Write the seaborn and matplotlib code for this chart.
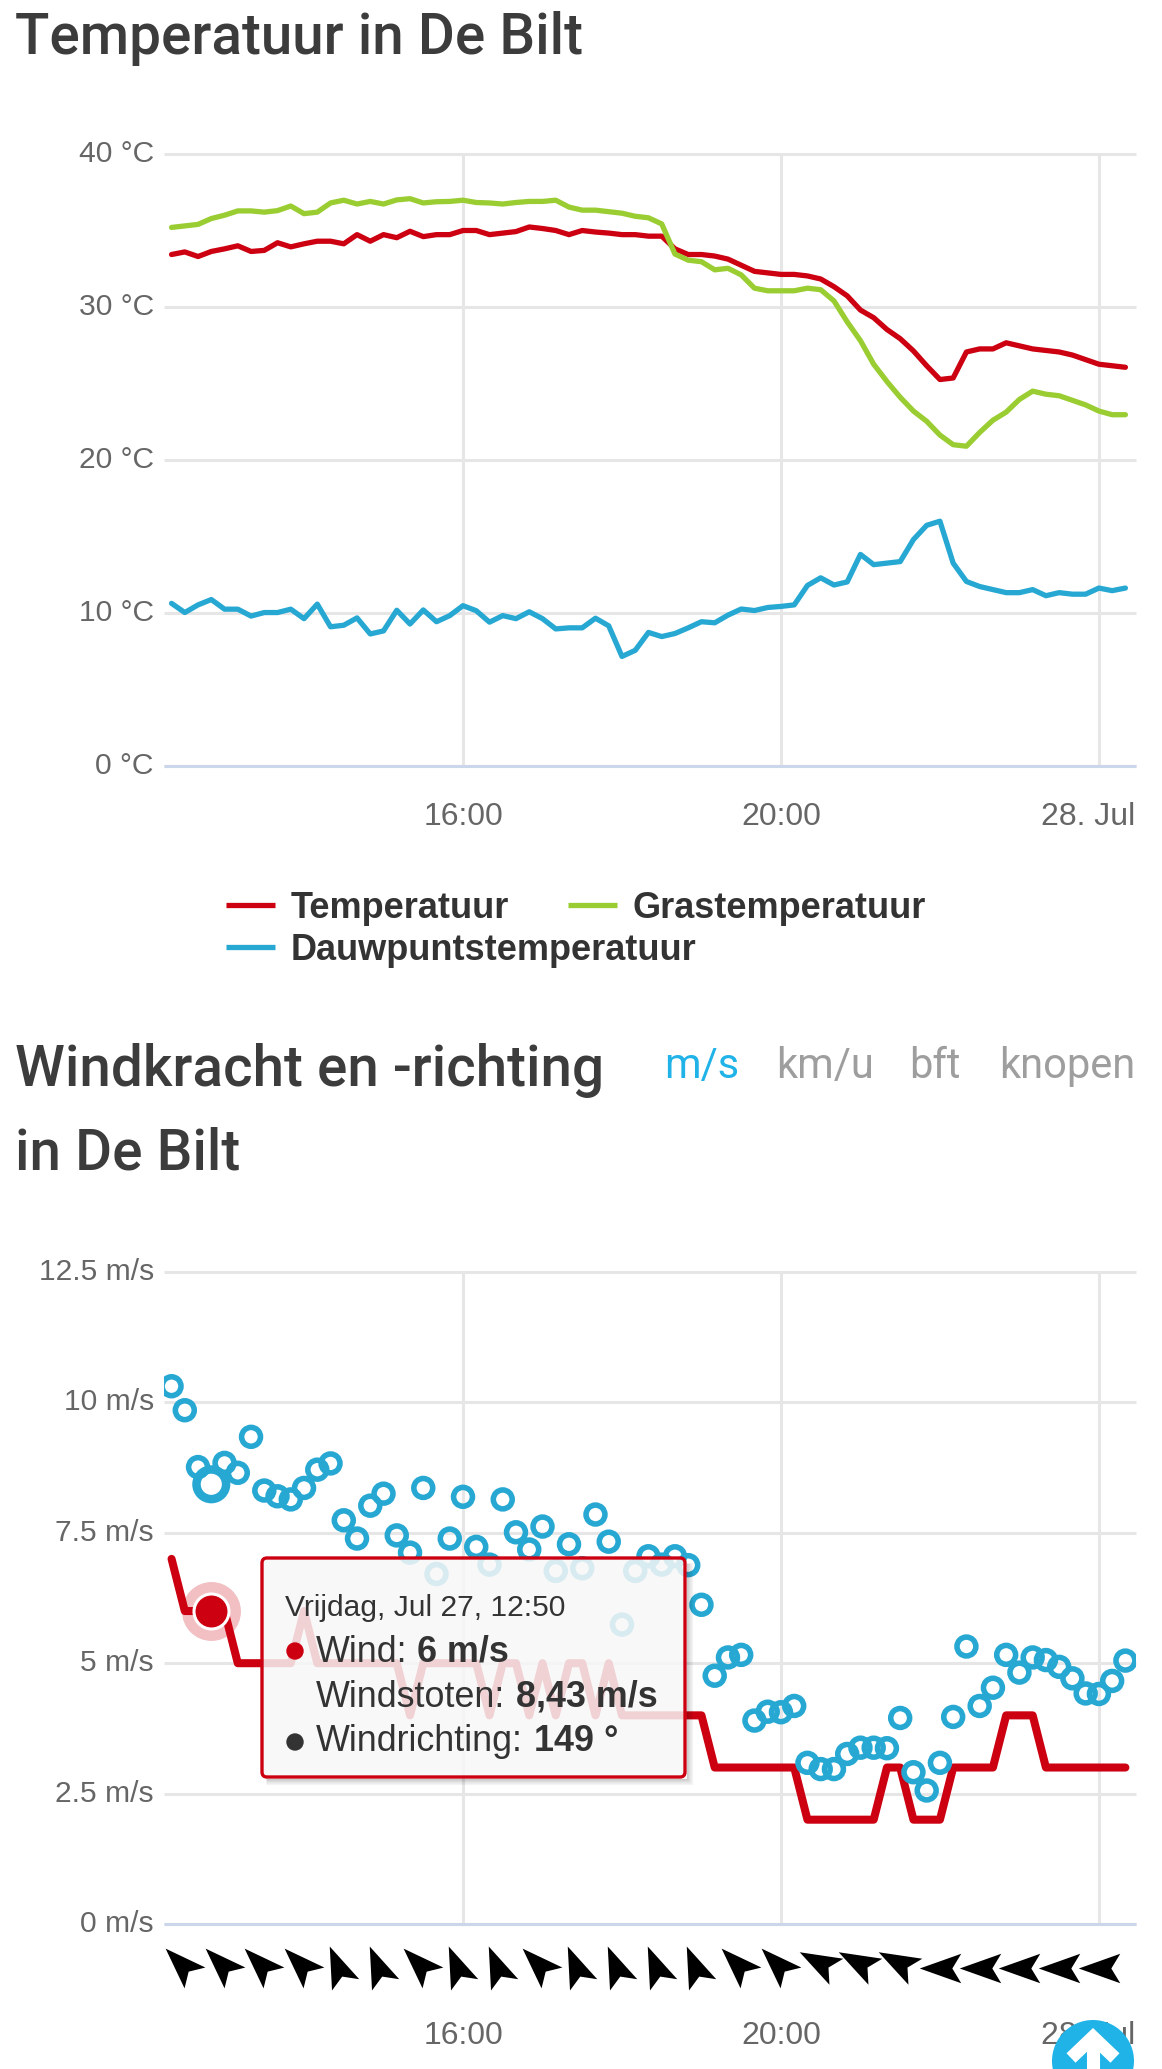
import matplotlib
matplotlib.use("Agg")
import matplotlib.pyplot as plt
import numpy as np
import pandas as pd
import seaborn as sns
from matplotlib.lines import Line2D
from matplotlib.markers import MarkerStyle
from matplotlib.patches import Circle, FancyBboxPatch
from matplotlib.path import Path
from matplotlib.transforms import Affine2D, ScaledTranslation

W, H = 1162, 2069

times = pd.date_range("2018-07-27 12:20", periods=73, freq="10min")

temperatuur = [33.43, 33.6, 33.3, 33.63, 33.8, 34.0, 33.63, 33.7, 34.2, 33.93, 34.13, 34.3, 34.3, 34.13, 34.73,
               34.3, 34.73, 34.53, 34.95, 34.6, 34.73, 34.73, 35.0, 35.0, 34.73, 34.83, 34.93, 35.23, 35.13, 35.0,
               34.73, 35.0, 34.9, 34.83, 34.73, 34.73, 34.63, 34.63, 33.8, 33.43, 33.43, 33.33, 33.13, 32.73, 32.33,
               32.23, 32.13, 32.13, 32.03, 31.83, 31.33, 30.73, 29.8, 29.3, 28.53, 27.93, 27.13, 26.16, 25.26, 25.36,
               27.06, 27.26, 27.26, 27.66, 27.46, 27.26, 27.16, 27.06, 26.86, 26.56, 26.26, 26.16, 26.06]
grastemperatuur = [35.2, 35.3, 35.4, 35.78, 36.0, 36.28, 36.28, 36.2, 36.3, 36.6, 36.1, 36.2, 36.8, 36.98, 36.73,
                   36.9, 36.73, 37.0, 37.08, 36.8, 36.88, 36.9, 36.98, 36.83, 36.8, 36.73, 36.83, 36.9, 36.9, 36.98,
                   36.53, 36.33, 36.33, 36.23, 36.13, 35.93, 35.83, 35.43, 33.46, 33.06, 32.96, 32.43, 32.53, 32.1,
                   31.23, 31.06, 31.06, 31.06, 31.23, 31.13, 30.4, 29.03, 27.8, 26.26, 25.13, 24.1, 23.2, 22.53,
                   21.63, 21.0, 20.9, 21.8, 22.6, 23.13, 23.96, 24.5, 24.3, 24.2, 23.9, 23.6, 23.2, 22.96, 22.96]
dauwpunt = [10.63, 10.03, 10.53, 10.88, 10.25, 10.25, 9.8, 10.03, 10.03, 10.25, 9.63, 10.58, 9.1, 9.2, 9.68,
            8.63, 8.83, 10.18, 9.28, 10.2, 9.43, 9.83, 10.48, 10.15, 9.4, 9.83, 9.63, 10.08, 9.63, 8.96,
            9.03, 9.03, 9.66, 9.16, 7.16, 7.56, 8.73, 8.46, 8.66, 9.03, 9.43, 9.36, 9.86, 10.26, 10.16,
            10.36, 10.43, 10.53, 11.8, 12.3, 11.83, 12.03, 13.83, 13.16, 13.26, 13.36, 14.8, 15.73, 16.0, 13.26,
            12.06, 11.73, 11.53, 11.33, 11.33, 11.53, 11.13, 11.33, 11.23, 11.23, 11.63, 11.46, 11.63]

wind = [7, 6, 6, 6, 6, 5, 5, 5, 5, 5, 6, 5, 5, 5, 5, 5, 5, 5, 4, 5, 5, 5, 5, 5, 4, 5, 5, 4, 5, 4, 5, 5, 4, 5,
        4, 4, 4, 4, 4, 4, 4, 3, 3, 3, 3, 3, 3, 3, 2, 2, 2, 2, 2, 2, 3, 3, 2, 2, 2, 3, 3, 3, 3, 4, 4, 4,
        3, 3, 3, 3, 3, 3, 3]
windstoten = [10.31, 9.85, 8.76, 8.43, 8.84, 8.65, 9.34, 8.31, 8.20, 8.14, 8.36, 8.71, 8.83, 7.74, 7.39, 8.02,
              8.25, 7.45, 7.12, 8.36, 6.71, 7.39, 8.19, 7.23, 6.89, 8.14, 7.51, 7.18, 7.62, 6.77, 7.28, 6.82,
              7.85, 7.33, 5.74, 6.77, 7.05, 6.89, 7.05, 6.88, 6.12, 4.76, 5.11, 5.16, 3.90, 4.07, 4.06, 4.18,
              3.09, 2.97, 2.97, 3.26, 3.38, 3.38, 3.37, 3.95, 2.91, 2.56, 3.09, 3.97, 5.32, 4.18, 4.53, 5.16,
              4.82, 5.11, 5.06, 4.93, 4.71, 4.42, 4.41, 4.66, 5.05]
windrichting = [135, 135, 135, 135, 157.5, 157.5, 135, 157.5, 157.5, 135, 157.5, 157.5, 157.5, 157.5, 135, 135,
                118, 118, 118, 90, 90, 90, 90, 90]

temp_ticks = [0, 10, 20, 30, 40]
temp_labels = ["0 °C", "10 °C", "20 °C", "30 °C", "40 °C"]
wind_ticks = [0, 2.5, 5, 7.5, 10, 12.5]
wind_labels = ["0 m/s", "2.5 m/s", "5 m/s", "7.5 m/s", "10 m/s", "12.5 m/s"]
hour_ticks = pd.to_datetime(["2018-07-27 16:00", "2018-07-27 20:00", "2018-07-28 00:00"])
hour_labels = ["16:00", "20:00", "28. Jul"]

RED = "#cc0011"
GREEN = "#9acd32"
BLUE = "#27a8d3"
TEXT = "#333333"
HOVER = 3

sns.set_theme(style="whitegrid")
plt.rcParams["font.family"] = ["Liberation Sans", "DejaVu Sans"]

fig = plt.figure(figsize=(W / 100, H / 100), dpi=100, facecolor="white")
px = Affine2D().scale(1, -1).translate(0, H)


def make_axes(top, bottom):
    return fig.add_axes([164 / W, 1 - bottom / H, (1136 - 164) / W, (bottom - top) / H])


def style_axes(ax, ticks, labels, ymax, pad):
    ax.set_xlim(pd.Timestamp("2018-07-27 12:14:18"), pd.Timestamp("2018-07-28 00:28"))
    ax.set_ylim(0, ymax)
    ax.set_yticks(ticks, labels)
    ax.set_xticks(hour_ticks, hour_labels)
    ax.set_xlabel("")
    ax.set_ylabel("")
    ax.set_facecolor("none")
    ax.set_axisbelow(True)
    ax.grid(True, color="#e6e6e6", linewidth=2.2, solid_capstyle="butt")
    for g in ax.get_xgridlines() + ax.get_ygridlines():
        g.set_clip_on(False)
    ax.tick_params(axis="y", length=0, pad=8, labelsize=21.6, labelcolor="#666666")
    ax.tick_params(axis="x", length=21, width=2.2, color="#ccd6eb", pad=pad, labelsize=23, labelcolor="#666666")
    sns.despine(ax=ax, left=True)
    ax.spines["bottom"].set_color("#ccd6eb")
    ax.spines["bottom"].set_linewidth(2.2)
    ax.spines["bottom"].set_capstyle("butt")
    last = ax.get_xticklabels()[-1]
    last.set_ha("right")
    last.set_transform(last.get_transform() + ScaledTranslation(36 / 100, 0, fig.dpi_scale_trans))
    for lab in ax.get_yticklabels():
        lab.set_transform(lab.get_transform() + ScaledTranslation(1 / 100, 3 / 100, fig.dpi_scale_trans))


def arrow_marker(direction):
    # pijl wijst met de wind mee en wordt op zijn bounding box gecentreerd
    pts = np.array([[0, 1], [0.71, -1], [0, -0.57], [-0.71, -1], [0, 1]]) * 20.75
    heading = np.deg2rad(direction + 180)
    rot = np.array([[np.cos(heading), np.sin(heading)], [-np.sin(heading), np.cos(heading)]])
    pts = pts @ rot.T
    pts = pts - (pts.max(axis=0) + pts.min(axis=0)) / 2
    size = 2 * np.abs(pts).max() * 0.72
    codes = [Path.MOVETO, Path.LINETO, Path.LINETO, Path.LINETO, Path.CLOSEPOLY]
    return MarkerStyle(Path(pts, codes)), size ** 2


# --- temperatuur ---
ax1 = make_axes(154, 766)
sns.lineplot(x=times, y=temperatuur, color=RED, lw=3.8, label="Temperatuur", estimator=None, errorbar=None,
             solid_capstyle="round", solid_joinstyle="round", ax=ax1, zorder=3)
sns.lineplot(x=times, y=grastemperatuur, color=GREEN, lw=3.8, label="Grastemperatuur", estimator=None, errorbar=None,
             solid_capstyle="round", solid_joinstyle="round", ax=ax1, zorder=3)
sns.lineplot(x=times, y=dauwpunt, color=BLUE, lw=3.8, label="Dauwpuntstemperatuur", estimator=None, errorbar=None,
             solid_capstyle="round", solid_joinstyle="round", ax=ax1, zorder=3)
style_axes(ax1, temp_ticks, temp_labels, 40, 5)

handles, names = ax1.get_legend_handles_labels()
legend_font = {"family": "Liberation Sans", "weight": "bold", "size": 26}
legend_args = dict(loc="center left", bbox_transform=px, frameon=False, prop=legend_font, labelcolor=TEXT,
                   handlelength=1.36, handletextpad=0.43, borderpad=0, borderaxespad=0)
top_legend = ax1.legend(handles[:2], names[:2], bbox_to_anchor=(226, 908.5), ncol=2, columnspacing=1.62, **legend_args)
for line in top_legend.get_lines():
    line.set_solid_capstyle("butt")
ax1.add_artist(top_legend)
low_legend = ax1.legend(handles[2:], names[2:], bbox_to_anchor=(226, 950.5), **legend_args)
for line in low_legend.get_lines():
    line.set_solid_capstyle("butt")

# --- wind ---
ax2 = make_axes(1272, 1924)
sns.lineplot(x=times, y=wind, color=RED, lw=5.8, estimator=None, errorbar=None,
             solid_capstyle="round", solid_joinstyle="round", ax=ax2, zorder=3)
# het hover-punt krijgt straks een eigen, grotere ring
rest = [i for i in range(len(times)) if i != HOVER]
sns.scatterplot(x=times[rest], y=[windstoten[i] for i in rest], color=BLUE, edgecolor=BLUE, s=185, linewidth=4,
                ax=ax2, zorder=4)
ax2.collections[-1].set_facecolor("none")
style_axes(ax2, wind_ticks, wind_labels, 12.5, 49)

# hover-punt
ax2.scatter(times[HOVER], wind[HOVER], s=1800, color=RED, alpha=0.25, linewidth=0, zorder=4)
ax2.scatter(times[HOVER], wind[HOVER], s=635, color=RED, edgecolor="white", linewidth=2.2, zorder=5)
ax2.scatter(times[HOVER], windstoten[HOVER], s=454, facecolor="none", edgecolor=BLUE, linewidth=6.1, zorder=5)

# windpijlen, elke derde meting
arrow_times = times[1::3]
for t, d in zip(arrow_times, windrichting):
    marker, size = arrow_marker(d)
    ax2.scatter(t, -44 / 652, marker=marker, s=size, color="black", linewidth=0,
                transform=ax2.get_xaxis_transform(), clip_on=False, zorder=4)

# --- koppen ---
head = {"family": "Roboto", "weight": 500, "color": "#3c3c3c", "size": 40.8}
fig.text(15, 54, "Temperatuur in De Bilt", transform=px, **head)
fig.text(15, 1086, "Windkracht en -richting", transform=px, **head)
fig.text(15, 1169, "in De Bilt", transform=px, **head)

tab = {"family": "Roboto", "size": 30, "ha": "left"}
fig.text(664, 1078, "m/s", color="#1fb3e8", transform=px, **tab)
fig.text(776, 1078, "km/u", color="#9e9e9e", transform=px, **tab)
fig.text(909, 1078, "bft", color="#9e9e9e", transform=px, **tab)
fig.text(999, 1078, "knopen", color="#9e9e9e", transform=px, **tab)

# --- tooltip ---
for off, alpha in [(7, 0.04), (6, 0.06), (5, 0.08), (4, 0.1), (3, 0.14), (2, 0.18)]:
    fig.add_artist(Line2D([266, 685 + off, 685 + off], [1777 + off, 1777 + off, 1563], color="black", alpha=alpha,
                          lw=0.9, solid_capstyle="butt", solid_joinstyle="miter", transform=px, zorder=5))
fig.add_artist(FancyBboxPatch((262, 1558), 423, 219, boxstyle="round,pad=0,rounding_size=5",
                              facecolor=(0.97, 0.97, 0.97, 0.85), edgecolor=RED, linewidth=2.4,
                              transform=px, zorder=6))
tip = dict(transform=px, color=TEXT, zorder=7)
fig.text(285, 1616, "Vrijdag, Jul 27, 12:50", size=21.6, **tip)
fig.text(316, 1662, "Wind:", size=25.8, **tip)
fig.text(417, 1662, "6 m/s", size=25.8, weight="bold", **tip)
fig.text(316, 1707, "Windstoten:", size=25.8, **tip)
fig.text(516, 1707, "8,43 m/s", size=25.8, weight="bold", **tip)
fig.text(316, 1751, "Windrichting:", size=25.8, **tip)
fig.text(534, 1751, "149 °", size=25.8, weight="bold", **tip)
fig.add_artist(Circle((295, 1651), 8, color=RED, transform=px, zorder=7))
fig.add_artist(Circle((295, 1742), 8, color=TEXT, transform=px, zorder=7))

# --- knop naar boven ---
fig.add_artist(Circle((1093, 2061), 41, color="#1fb3e8", linewidth=0, transform=px, zorder=8))
fig.add_artist(Line2D([1071, 1093, 1115], [2058, 2037, 2058], color="white", lw=9.4, solid_joinstyle="miter",
                      solid_capstyle="butt", transform=px, zorder=9))
fig.add_artist(Line2D([1093, 1093], [2045, 2069], color="white", lw=9.4, solid_capstyle="butt",
                      transform=px, zorder=9))

fig.savefig("out.png", dpi=100, facecolor="white")
